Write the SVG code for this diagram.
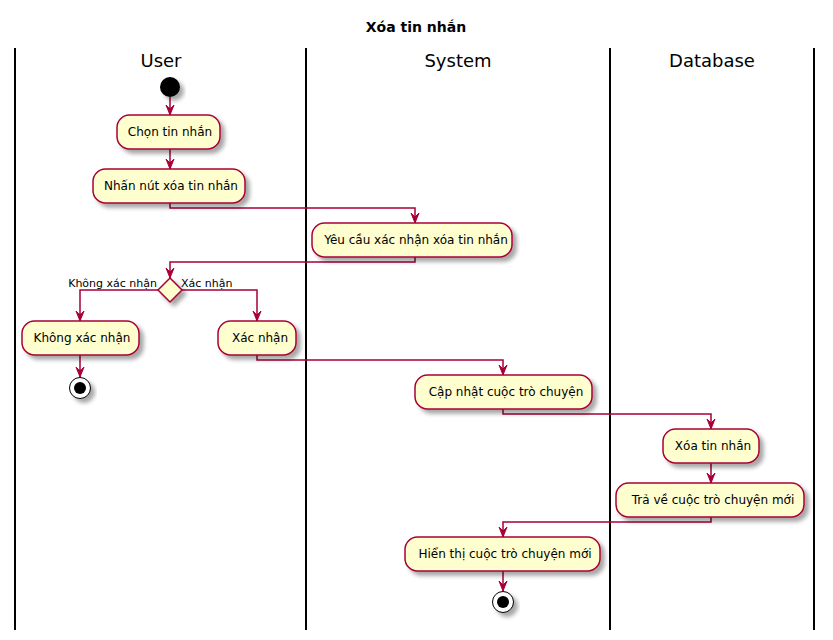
<svg xmlns="http://www.w3.org/2000/svg" width="833" height="640" viewBox="0 0 833 640">
<defs>
<filter id="sh" x="-20%" y="-20%" width="150%" height="170%">
<feGaussianBlur in="SourceAlpha" stdDeviation="2"/>
<feOffset dx="4" dy="4" result="b"/>
<feComponentTransfer><feFuncA type="linear" slope="0.35"/></feComponentTransfer>
<feMerge><feMergeNode/><feMergeNode in="SourceGraphic"/></feMerge>
</filter>
<marker id="ah" viewBox="0 0 10 10" refX="10" refY="5" markerWidth="10" markerHeight="10" markerUnits="userSpaceOnUse" orient="auto">
<polygon points="0,1 10,5 0,9 4,5" fill="#A80036" stroke="#A80036" stroke-width="1"/>
</marker>
</defs>
<style>
.lane{stroke:#000;stroke-width:2;fill:none}
.act{fill:#FEFECE;stroke:#A80036;stroke-width:1.5;filter:url(#sh)}
.t{font-family:"DejaVu Sans",sans-serif;font-size:12px;fill:#000}
.lbl{font-family:"DejaVu Sans",sans-serif;font-size:11px;fill:#000}
.lt{font-family:"DejaVu Sans",sans-serif;font-size:18px;fill:#000;text-anchor:middle}
.c{fill:none;stroke:#A80036;stroke-width:1.5;marker-end:url(#ah)}
</style>
<rect width="833" height="640" fill="#fff"/>
<text x="416" y="32" text-anchor="middle" font-family="DejaVu Sans, sans-serif" font-size="14" font-weight="bold">Xóa tin nhắn</text>
<g id="lanes">
<line class="lane" x1="15" y1="48" x2="15" y2="630"/>
<line class="lane" x1="306" y1="48" x2="306" y2="630"/>
<line class="lane" x1="610" y1="48" x2="610" y2="630"/>
<line class="lane" x1="814" y1="48" x2="814" y2="630"/>
<text class="lt" x="161" y="67">User</text>
<text class="lt" x="458" y="67">System</text>
<text class="lt" x="712" y="67">Database</text>
</g>
<g id="connectors">
<path class="c" d="M170,97 V115"/>
<path class="c" d="M170,149 V169"/>
<path class="c" d="M170,203 V208 H415 V223"/>
<path class="c" d="M415,257 V262 H170 V278"/>
<path class="c" d="M158,290 H80 V321"/>
<path class="c" d="M182,290 H257 V321"/>
<path class="c" d="M80,355 V377"/>
<path class="c" d="M257,355 V360 H503 V375"/>
<path class="c" d="M503,409 V414 H711 V429"/>
<path class="c" d="M711,463 V483"/>
<path class="c" d="M711,517 V522 H503 V537"/>
<path class="c" d="M503,571 V591"/>
<text class="lbl" x="157" y="287" text-anchor="end">Không xác nhận</text>
<text class="lbl" x="181" y="287">Xác nhận</text>
</g>
<g id="start"><circle cx="170" cy="87" r="10" fill="#000" filter="url(#sh)"/></g>
<g id="chon"><rect class="act" x="117" y="115" width="103" height="34" rx="12.5"/><text class="t" x="170" y="136" text-anchor="middle"> Chọn tin nhắn</text></g>
<g id="nhan"><rect class="act" x="93" y="169" width="152" height="34" rx="12.5"/><text class="t" x="171" y="190" text-anchor="middle">Nhấn nút xóa tin nhắn</text></g>
<g id="yeucau"><rect class="act" x="312" y="223" width="200" height="34" rx="12.5"/><text class="t" x="416" y="244" text-anchor="middle">Yêu cầu xác nhận xóa tin nhắn</text></g>
<g id="decision"><polygon points="170,278 182,290 170,302 158,290" fill="#FEFECE" stroke="#A80036" stroke-width="1.5" filter="url(#sh)"/></g>
<g id="khong"><rect class="act" x="22" y="321" width="117" height="34" rx="12.5"/><text class="t" x="82" y="342" text-anchor="middle">Không xác nhận</text></g>
<g id="xacnhan"><rect class="act" x="218" y="321" width="78" height="34" rx="12.5"/><text class="t" x="260" y="342" text-anchor="middle">Xác nhận</text></g>
<g id="stop1"><circle cx="80" cy="388" r="10.5" fill="#fff" stroke="#000" stroke-width="1" filter="url(#sh)"/><circle cx="80" cy="388" r="6" fill="#000"/></g>
<g id="capnhat"><rect class="act" x="415" y="375" width="177" height="34" rx="12.5"/><text class="t" x="506" y="396" text-anchor="middle">Cập nhật cuộc trò chuyện</text></g>
<g id="xoa"><rect class="act" x="663" y="429" width="96" height="34" rx="12.5"/><text class="t" x="713" y="450" text-anchor="middle">Xóa tin nhắn</text></g>
<g id="trave"><rect class="act" x="616" y="483" width="188" height="34" rx="12.5"/><text class="t" x="713" y="504" text-anchor="middle">Trả về cuộc trò chuyện mới</text></g>
<g id="hienthi"><rect class="act" x="405" y="537" width="195" height="34" rx="12.5"/><text class="t" x="505" y="558" text-anchor="middle">Hiển thị cuộc trò chuyện mới</text></g>
<g id="stop2"><circle cx="503" cy="602" r="10.5" fill="#fff" stroke="#000" stroke-width="1" filter="url(#sh)"/><circle cx="503" cy="602" r="6" fill="#000"/></g>
</svg>
